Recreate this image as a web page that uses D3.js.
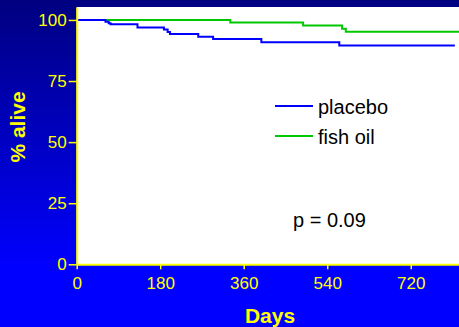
<!DOCTYPE html>
<html>
<head>
<meta charset="utf-8">
<script src="https://cdn.jsdelivr.net/npm/d3@7"></script>
<style>
  html, body { margin: 0; padding: 0; background: #0000ff; }
  svg { display: block; font-family: "Liberation Sans", Arial, sans-serif; }
</style>
</head>
<body>
<svg id="chart" width="459" height="327"></svg>
<script>
// survival data (days, % alive)
const placeboDays  = [0, 62, 69, 73, 131, 188, 196, 201, 262, 294, 398, 566, 815];
const placeboAlive = [100, 99.3, 98.6, 98.2, 96.9, 96.1, 95.1, 94.3, 93.1, 92.2, 90.9, 89.5, 89.5];
const fishDays  = [0, 331, 488, 572, 580, 830];
const fishAlive = [100, 99.0, 97.7, 96.4, 95.2, 95.2];

const xTicks = [0, 180, 360, 540, 720];
const yTicks = [0, 25, 50, 75, 100];
const seriesNames = ['placebo', 'fish oil'];
const seriesColors = ['#0000ff', '#00c800'];

const width = 459, height = 327;
const svg = d3.select('#chart');

// background gradient
const defs = svg.append('defs');
const grad = defs.append('linearGradient')
  .attr('id', 'bg')
  .attr('x1', 0).attr('y1', 0).attr('x2', 0).attr('y2', 1);
grad.append('stop').attr('offset', '0%').attr('stop-color', '#000080');
grad.append('stop').attr('offset', '82%').attr('stop-color', '#0000ff');
grad.append('stop').attr('offset', '100%').attr('stop-color', '#0000ff');
svg.append('rect').attr('width', width).attr('height', height).attr('fill', 'url(#bg)');

const x = d3.scaleLinear().domain([0, 824]).range([76.7, 459]);
const y = d3.scaleLinear().domain([0, 105.3]).range([264.3, 7]);

// white plot area
svg.append('rect')
  .attr('x', x(0)).attr('y', y(105.3))
  .attr('width', x(824) - x(0)).attr('height', y(0) - y(105.3))
  .attr('fill', '#ffffff');

const line = d3.line()
  .x(d => x(d[0]))
  .y(d => y(d[1]))
  .curve(d3.curveStepAfter);

const fish = fishDays.map((d, i) => [d, fishAlive[i]]);
const placebo = placeboDays.map((d, i) => [d, placeboAlive[i]]);

svg.append('path').datum(fish)
  .attr('d', line).attr('fill', 'none')
  .attr('stroke', seriesColors[1]).attr('stroke-width', 2);
svg.append('path').datum(placebo)
  .attr('d', line).attr('fill', 'none')
  .attr('stroke', seriesColors[0]).attr('stroke-width', 2);

// axes
const yAxis = svg.append('g')
  .attr('transform', `translate(${x(0)},0)`)
  .call(d3.axisLeft(y).tickValues(yTicks).tickSize(8).tickSizeOuter(0).tickPadding(2));
const xAxis = svg.append('g')
  .attr('transform', `translate(0,${y(0)})`)
  .call(d3.axisBottom(x).tickValues(xTicks).tickSize(5).tickSizeOuter(0).tickPadding(8));

[yAxis, xAxis].forEach(g => {
  g.select('.domain').attr('stroke', '#ffff00').attr('stroke-width', 2);
  g.selectAll('.tick line').attr('stroke', '#ffff00').attr('stroke-width', 1.5);
  g.selectAll('.tick text')
    .attr('fill', '#ffff00')
    .style('font-size', '17px')
    .style('font-family', '"Liberation Sans", Arial, sans-serif');
});

// axis titles
svg.append('text')
  .attr('x', 270).attr('y', 323)
  .attr('text-anchor', 'middle')
  .attr('fill', '#ffff00')
  .style('font-size', '21px').style('font-weight', 'bold')
  .text('Days');

svg.append('text')
  .attr('transform', 'translate(25,127) rotate(-90)')
  .attr('text-anchor', 'middle')
  .attr('fill', '#ffff00')
  .style('font-size', '21px').style('font-weight', 'bold')
  .text('% alive');

// legend
const legend = svg.append('g');
seriesNames.forEach((name, i) => {
  const ly = 106 + i * 30;
  legend.append('line')
    .attr('x1', 275).attr('x2', 313).attr('y1', ly).attr('y2', ly)
    .attr('stroke', seriesColors[i]).attr('stroke-width', 2);
  legend.append('text')
    .attr('x', 318).attr('y', ly + 8)
    .attr('fill', '#000000')
    .style('font-size', '20px')
    .text(name);
});

svg.append('text')
  .attr('x', 293).attr('y', 226.7)
  .attr('fill', '#000000')
  .style('font-size', '20px')
  .text('p = 0.09');
</script>
</body>
</html>
